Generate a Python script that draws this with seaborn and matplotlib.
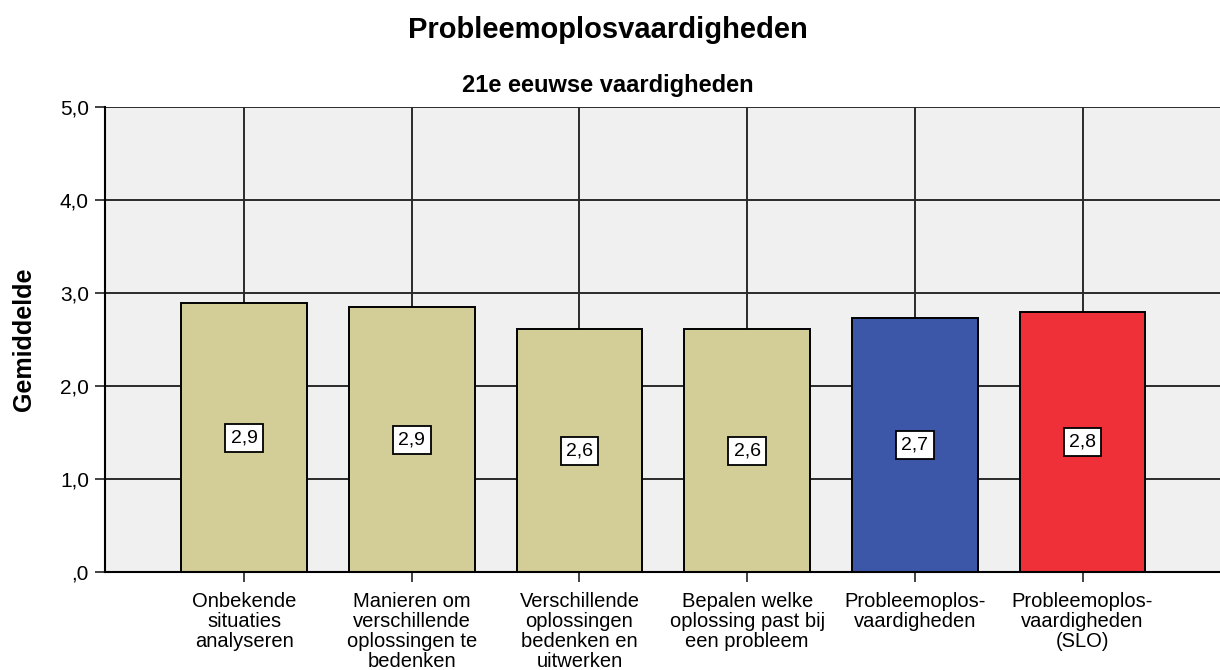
import pandas as pd
import matplotlib
matplotlib.use("Agg")
import matplotlib.pyplot as plt
import seaborn as sns

# Data
categories = [
    "Onbekende\nsituaties\nanalyseren",
    "Manieren om\nverschillende\noplossingen te\nbedenken",
    "Verschillende\noplossingen\nbedenken en\nuitwerken",
    "Bepalen welke\noplossing past bij\neen probleem",
    "Probleemoplos-\nvaardigheden",
    "Probleemoplos-\nvaardigheden\n(SLO)",
]
means = [2.89, 2.85, 2.61, 2.61, 2.73, 2.80]
bar_colors = ["#D3CE97", "#D3CE97", "#D3CE97", "#D3CE97", "#3D57A8", "#EF3038"]
y_ticks = [0, 1, 2, 3, 4, 5]
y_tick_labels = [",0", "1,0", "2,0", "3,0", "4,0", "5,0"]

sns.set_style("white")
plt.rcParams["font.family"] = ["Liberation Sans", "DejaVu Sans"]
plt.rcParams["text.color"] = "black"
plt.rcParams["axes.labelcolor"] = "black"
plt.rcParams["xtick.color"] = "black"
plt.rcParams["ytick.color"] = "black"

df = pd.DataFrame({"cat": categories, "mean": means})

fig = plt.figure(figsize=(12.2, 6.7), dpi=100)
ax = fig.add_axes([0.086, 0.146, 0.914, 0.694])
ax.set_facecolor("#F0F0F0")

sns.barplot(data=df, x="cat", y="mean", hue="cat", palette=bar_colors,
            legend=False, width=0.75, edgecolor="black", linewidth=1.4,
            saturation=1, ax=ax)

# grid lines behind the bars, also at the category positions
ax.set_axisbelow(True)
ax.xaxis.grid(True, color="#2a2a2a", linewidth=1.4)
ax.yaxis.grid(True, color="#2a2a2a", linewidth=1.4)

for cont in ax.containers:
    ax.bar_label(cont, labels=[f"{v:.1f}".replace(".", ",") for v in cont.datavalues],
                 label_type="center", fontsize=14,
                 bbox=dict(boxstyle="square,pad=0.28", facecolor="white",
                           edgecolor="black", linewidth=1.3))

ax.set_xlim(-0.83, 5.82)
ax.set_ylim(0, 5)
ax.set_yticks(y_ticks)
ax.set_yticklabels(y_tick_labels, fontsize=15)
ax.set_xticks(range(len(categories)))
ax.set_xticklabels(categories, fontsize=14.5, linespacing=1.05)
ax.tick_params(axis="y", direction="out", length=7.5, width=1.3, color="#333333",
               left=True, pad=4)
ax.tick_params(axis="x", direction="out", length=7.5, width=1.3, color="#333333",
               bottom=True, pad=7)

for side in ["left", "bottom"]:
    ax.spines[side].set_color("black")
    ax.spines[side].set_linewidth(1.5)
for side in ["top", "right"]:
    ax.spines[side].set_visible(False)

ax.set_xlabel("")
ax.set_ylabel("Gemiddelde", fontsize=18, fontweight="bold")
ax.yaxis.set_label_coords(-0.062, 0.5)

fig.text(0.498, (670 - 38) / 670, "Probleemoplosvaardigheden", ha="center",
         va="baseline", fontsize=21, fontweight="bold")
fig.text(0.498, (670 - 92) / 670, "21e eeuwse vaardigheden", ha="center",
         va="baseline", fontsize=17, fontweight="bold")

fig.savefig("out.png", dpi=100, facecolor="white")
